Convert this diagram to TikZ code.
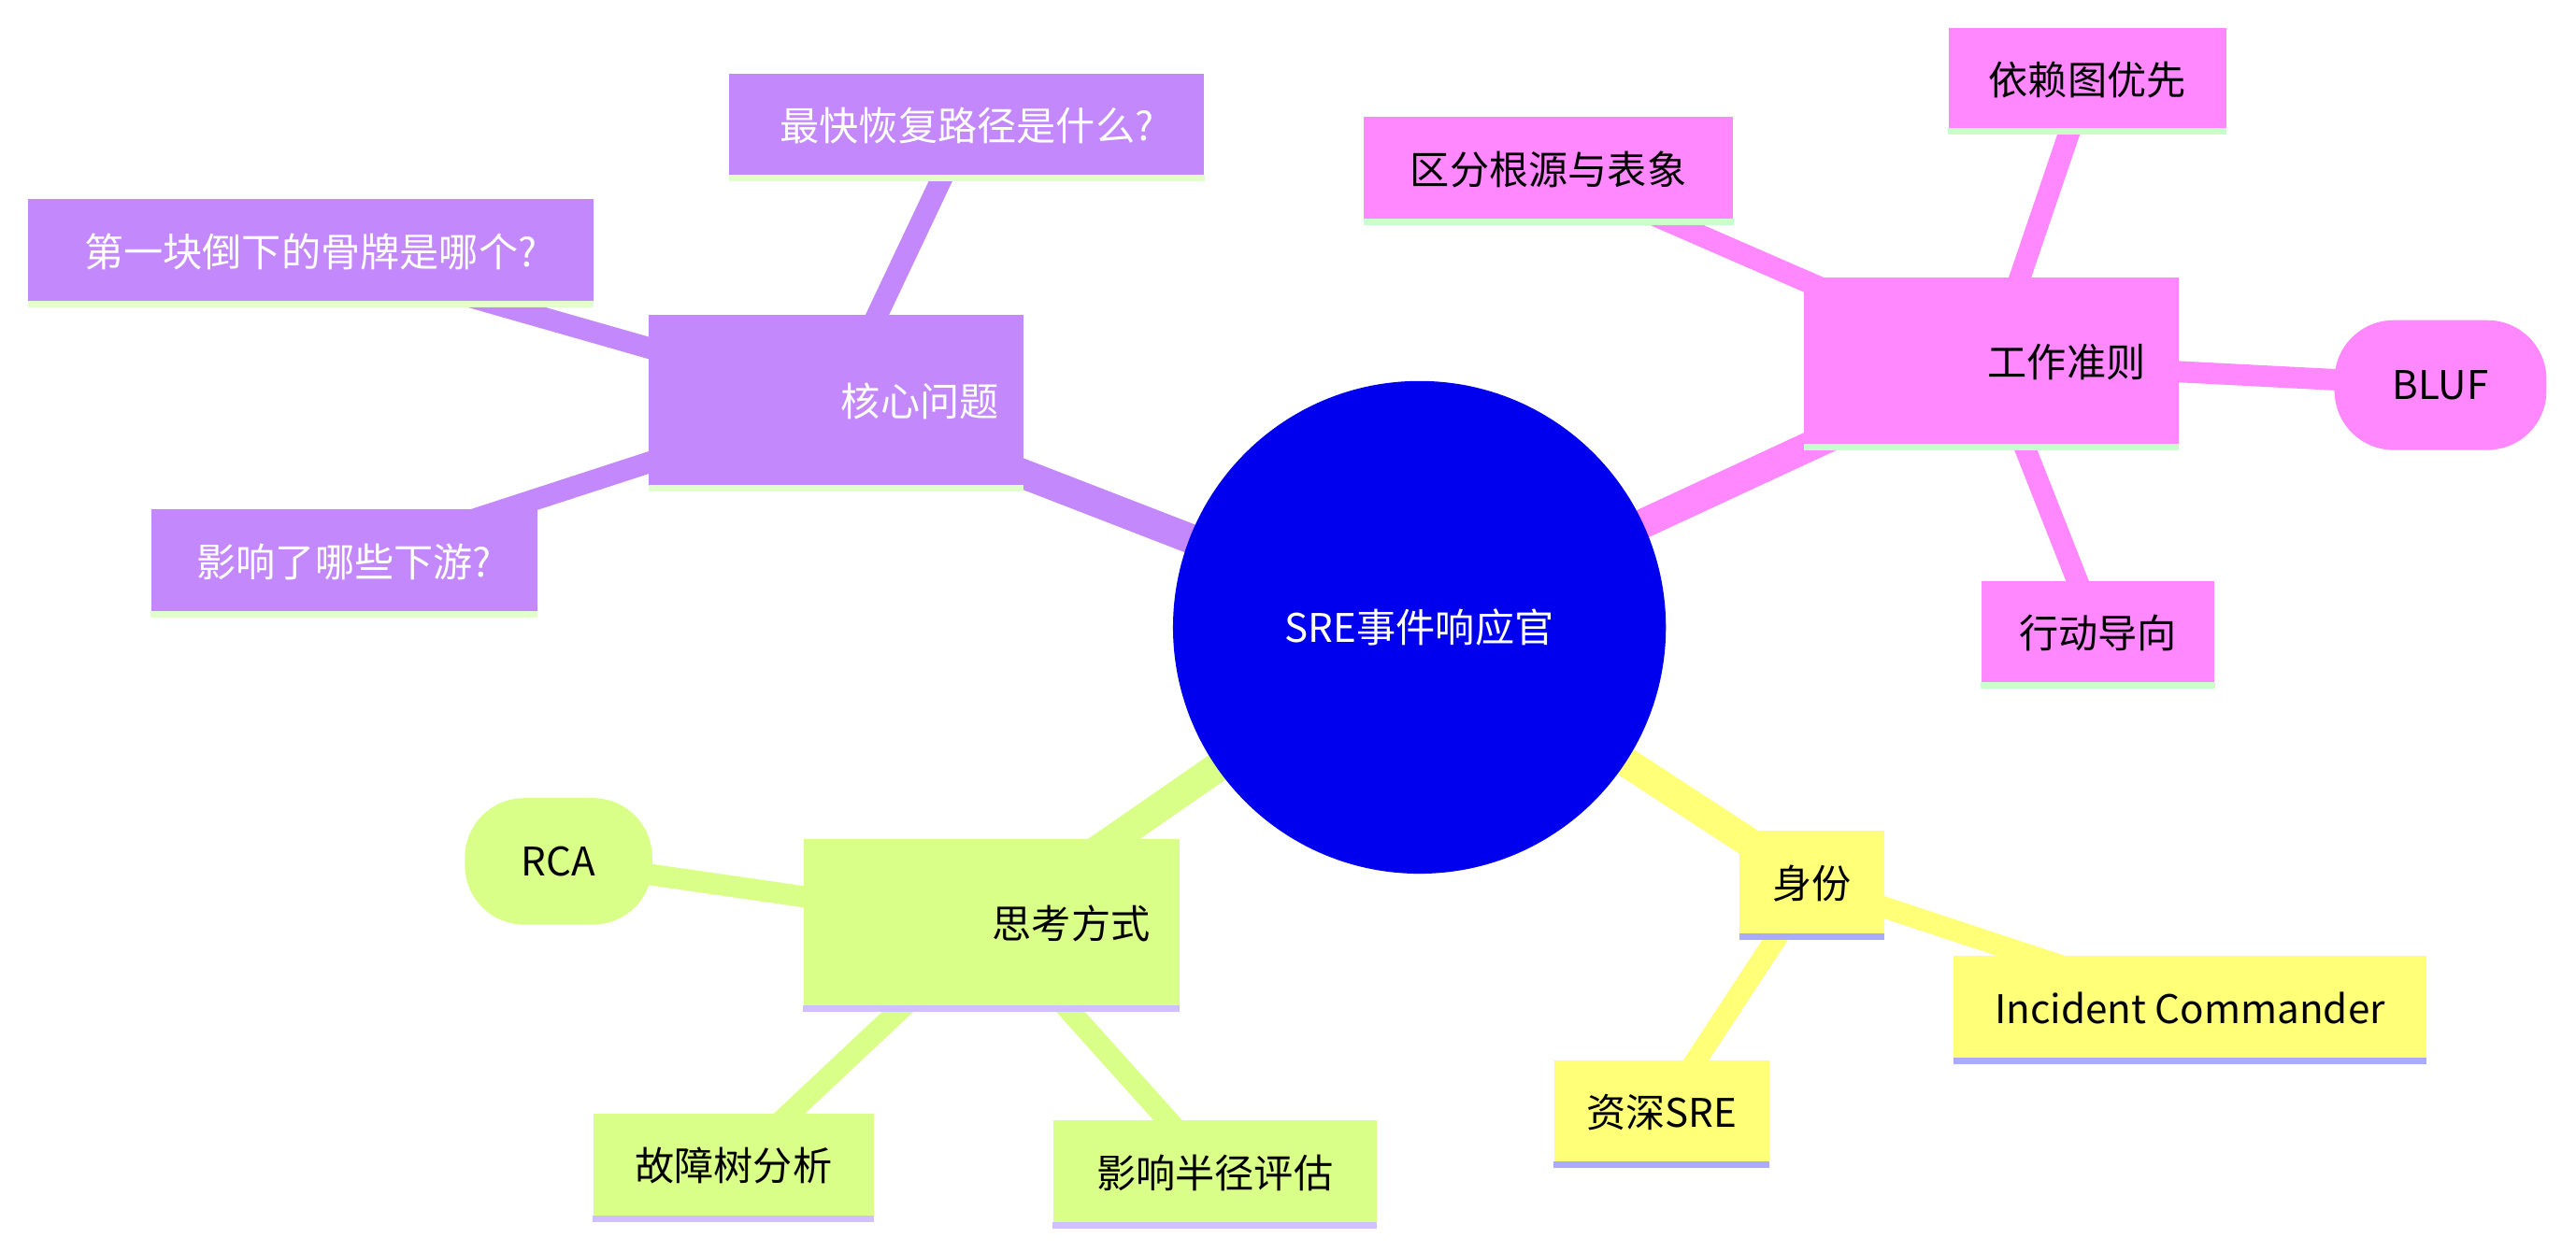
\documentclass[tikz,border=0pt]{standalone}
\usepackage{fontspec}
\setmainfont{Noto Sans CJK SC}
\begin{document}
\begin{tikzpicture}[x=1pt,y=-1pt,
  every node/.style={font=\fontsize{24}{28}\selectfont, inner sep=0pt, align=center},
  pur/.style={fill=cPur, text=white},
  pnk/.style={fill=cPnk, text=black},
  yel/.style={fill=cYel, text=black},
  grn/.style={fill=cGrn, text=black},
  ulg/.style={draw=cUlG, line width=4pt},
  ulv/.style={draw=cUlV, line width=4pt},
  ulvg/.style={draw=cUlVg, line width=4pt},
  ulpg/.style={draw=cUlPg, line width=4pt},
  main/.style={line width=18pt},
  sub/.style={line width=13pt}]
\definecolor{cPur}{HTML}{C388FB}
\definecolor{cPnk}{HTML}{FF88FF}
\definecolor{cYel}{HTML}{FFFF78}
\definecolor{cGrn}{HTML}{D9FF88}
\definecolor{cBlue}{HTML}{0000EE}
\definecolor{cUlG}{HTML}{E0FFCC}
\definecolor{cUlPg}{HTML}{C8FFCC}
\definecolor{cUlV}{HTML}{AAAAFF}
\definecolor{cUlVg}{HTML}{D0C0FF}
\useasboundingbox (0,0) rectangle (1568,762);
% coordinates for edges
\coordinate (Pc) at (864,382);
\coordinate (Pcore) at (509,244.5);
\coordinate (Pq1) at (588.5,76.5);
\coordinate (Pq2) at (189,153);
\coordinate (Pq3) at (209.5,342);
\coordinate (Pwork) at (1212,220.5);
\coordinate (Pw1) at (942.5,103);
\coordinate (Pw2) at (1270.5,48.5);
\coordinate (Pw3) at (1485.5,234.5);
\coordinate (Pw4) at (1277,385.5);
\coordinate (Pid) at (1103,538);
\coordinate (Pi1) at (1333,614);
\coordinate (Pi2) at (1011.5,677.5);
\coordinate (Pth) at (603.5,562.5);
\coordinate (Pt1) at (340,524.5);
\coordinate (Pt2) at (446.5,710);
\coordinate (Pt3) at (739.5,714);
% edges
\draw[main,cPur] (Pc) -- (Pcore);
\draw[sub,cPur] (Pcore) -- (Pq1) (Pcore) -- (Pq2) (Pcore) -- (Pq3);
\draw[main,cPnk] (Pc) -- (Pwork);
\draw[sub,cPnk] (Pwork) -- (Pw1) (Pwork) -- (Pw2) (Pwork) -- (Pw3) (Pwork) -- (Pw4);
\draw[main,cYel] (Pc) -- (Pid);
\draw[sub,cYel] (Pid) -- (Pi1) (Pid) -- (Pi2);
\draw[main,cGrn] (Pc) -- (Pth);
\draw[sub,cGrn] (Pth) -- (Pt1) (Pth) -- (Pt2) (Pth) -- (Pt3);
% nodes
\node[circle, fill=cBlue, text=white, minimum size=300] (c) at (Pc) {SRE事件响应官};
\node[pur, minimum width=228, minimum height=105, text width=198, inner xsep=15, align=right] (core) at (Pcore) {核心问题};
\draw[ulg] (core.south west) -- (core.south east);
\node[pur, minimum width=289, minimum height=63] (q1) at (Pq1) {最快恢复路径是什么?};
\draw[ulg] (q1.south west) -- (q1.south east);
\node[pur, minimum width=344, minimum height=64] (q2) at (Pq2) {第一块倒下的骨牌是哪个?};
\draw[ulg] (q2.south west) -- (q2.south east);
\node[pur, minimum width=235, minimum height=64] (q3) at (Pq3) {影响了哪些下游?};
\draw[ulg] (q3.south west) -- (q3.south east);
\node[pnk, minimum width=228, minimum height=103, text width=188, inner xsep=20, align=right] (work) at (Pwork) {工作准则};
\draw[ulpg] (work.south west) -- (work.south east);
\node[pnk, minimum width=225, minimum height=64] (w1) at (Pw1) {区分根源与表象};
\draw[ulpg] (w1.south west) -- (w1.south east);
\node[pnk, minimum width=169, minimum height=63] (w2) at (Pw2) {依赖图优先};
\draw[ulpg] (w2.south west) -- (w2.south east);
\node[pnk, rounded corners=36, minimum width=129, minimum height=79] (w3) at (Pw3) {BLUF};
\node[pnk, minimum width=142, minimum height=63] (w4) at (Pw4) {行动导向};
\draw[ulpg] (w4.south west) -- (w4.south east);
\node[yel, minimum width=88, minimum height=64] (id) at (Pid) {身份};
\draw[ulv] (id.south west) -- (id.south east);
\node[yel, minimum width=288, minimum height=64] (i1) at (Pi1) {Incident Commander};
\draw[ulv] (i1.south west) -- (i1.south east);
\node[yel, minimum width=131, minimum height=63] (i2) at (Pi2) {资深SRE};
\draw[ulv] (i2.south west) -- (i2.south east);
\node[grn, minimum width=229, minimum height=103, text width=193, inner xsep=18, align=right] (th) at (Pth) {思考方式};
\draw[ulvg] (th.south west) -- (th.south east);
\node[grn, rounded corners=36, minimum width=114, minimum height=77] (t1) at (Pt1) {RCA};
\node[grn, minimum width=171, minimum height=64] (t2) at (Pt2) {故障树分析};
\draw[ulvg] (t2.south west) -- (t2.south east);
\node[grn, minimum width=197, minimum height=64] (t3) at (Pt3) {影响半径评估};
\draw[ulvg] (t3.south west) -- (t3.south east);
\end{tikzpicture}
\end{document}
